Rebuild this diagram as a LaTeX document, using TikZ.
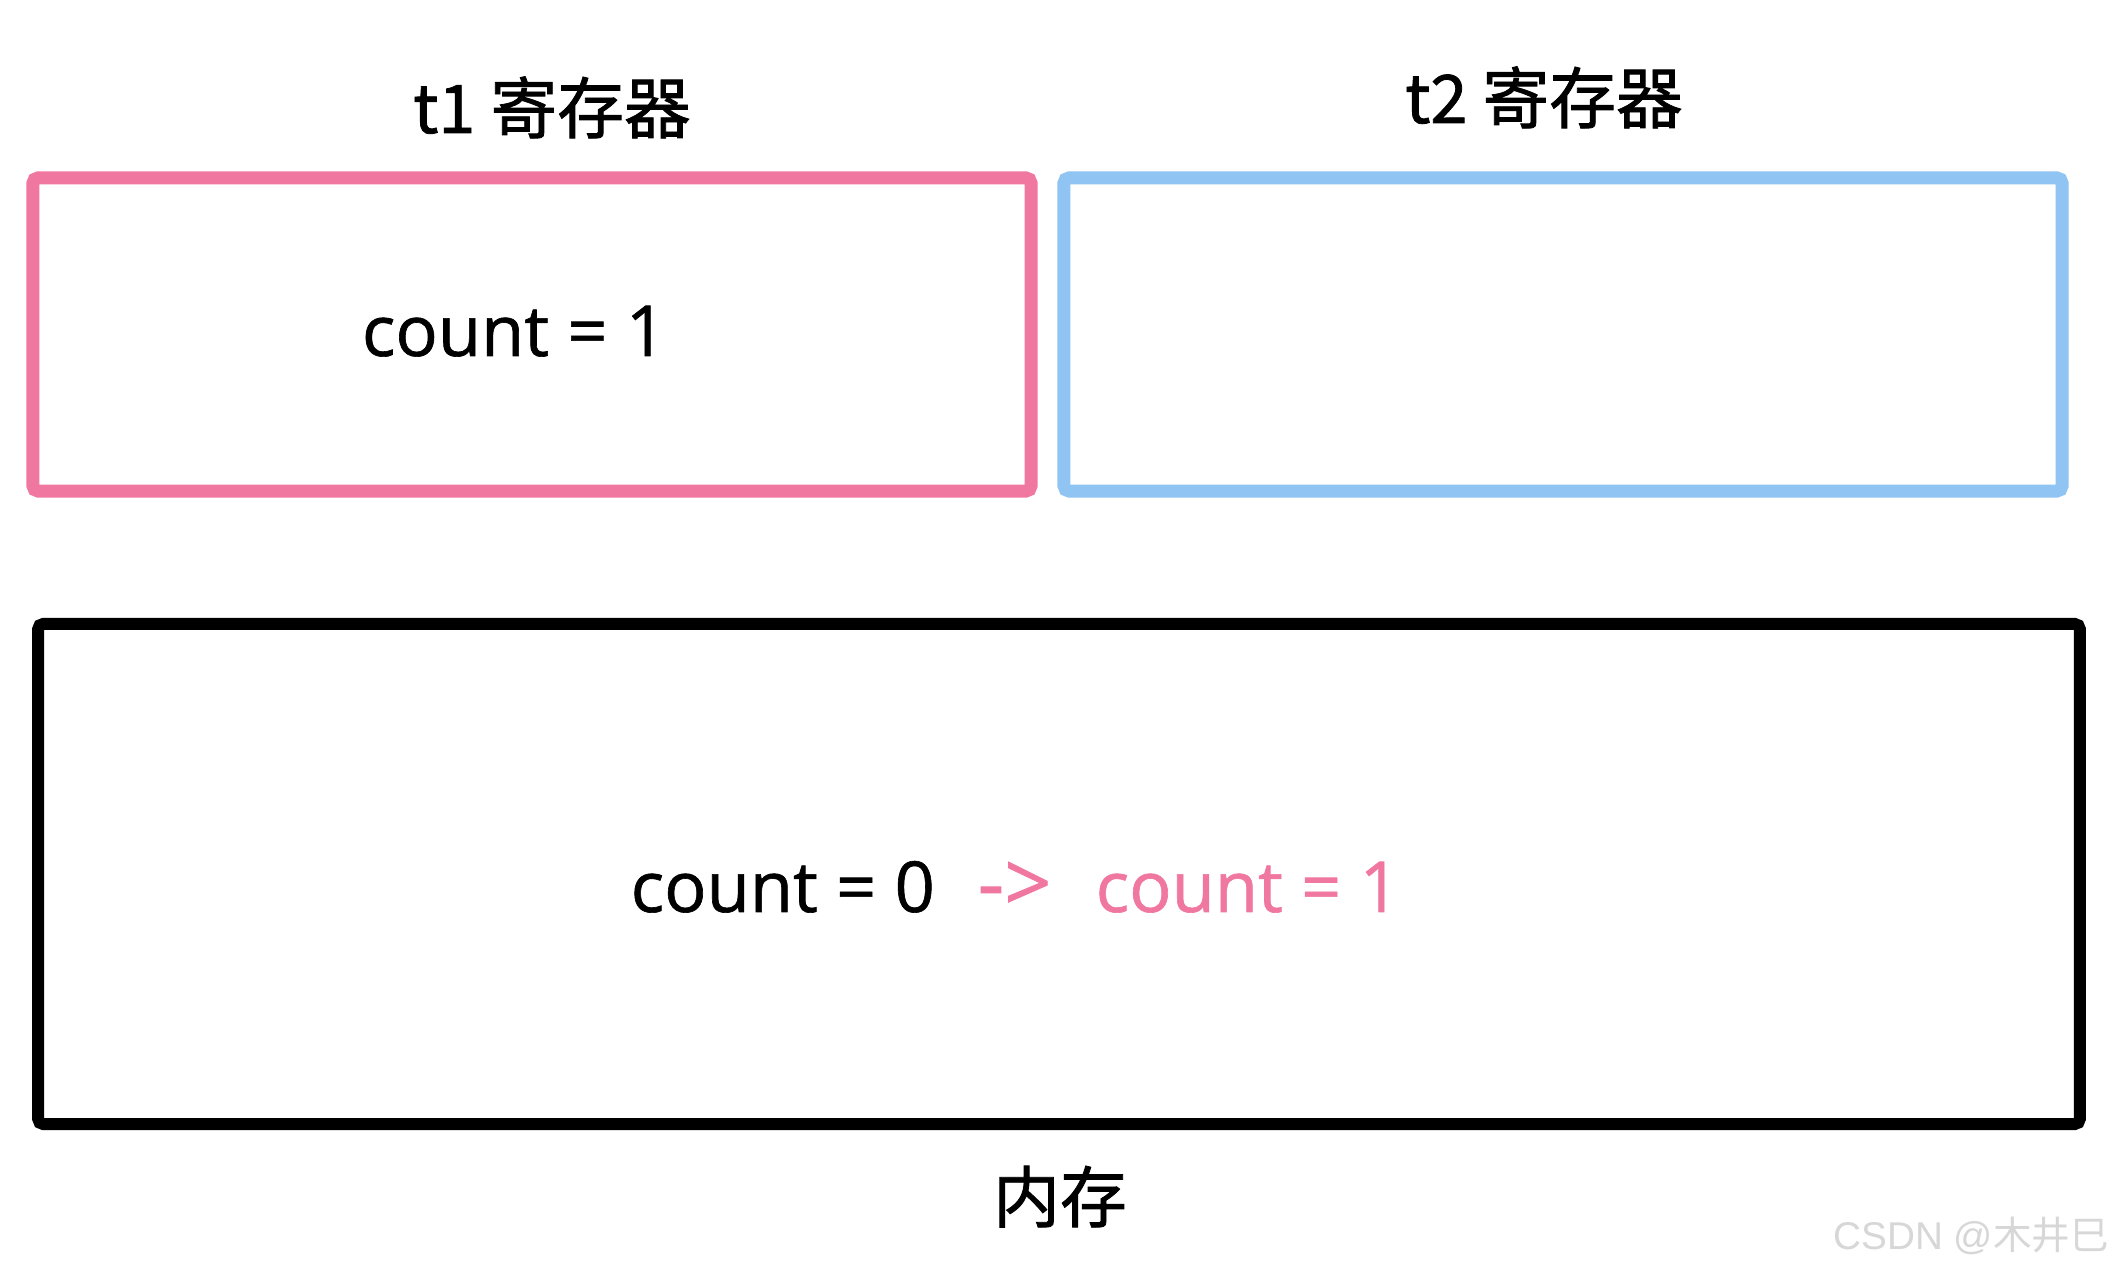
\documentclass[tikz,border=0pt]{standalone}
\usepackage{fontspec}
\setmainfont{Open Sans}[FakeBold=0.9]
\newfontfamily\cjk{Noto Sans CJK SC}[FakeBold=1.2]
\newfontfamily\wmfont{Liberation Sans}
\newfontfamily\wmcjk{Noto Sans CJK SC}
\definecolor{regpink}{RGB}{240,120,160}
\definecolor{regblue}{RGB}{144,196,242}
\definecolor{wmgray}{RGB}{215,215,215}
\tikzset{
  regbox/.style={draw, line width=3.7pt, rounded corners=1.5pt, minimum width=9.975cm, minimum height=3.13cm, inner sep=0pt},
  membox/.style={draw=black, line width=3.4pt, rounded corners=1.5pt, minimum width=20.405cm, minimum height=5.0cm, inner sep=0pt},
  lbl/.style={font=\cjk\fontsize{19}{22}\selectfont, inner sep=0pt, anchor=base},
  val/.style={font=\fontsize{20}{24}\selectfont, inner sep=0pt, anchor=base west},
}
\begin{document}
\begin{tikzpicture}[x=0.01cm, y=-0.01cm]
\useasboundingbox[fill=white] (0,0) rectangle (2118,1274);
\node[regbox, draw=regpink] (t1box) at (532,334.5) {};
\node[regbox, draw=regblue] (t2box) at (1563,334.5) {};
\node[membox] (mem) at (1059,874) {};
\node[lbl] (t1lbl) at (552,133) {t1 寄存器};
\node[lbl] (t2lbl) at (1544,123) {t2 寄存器};
\node[lbl] (memlbl) at (1060,1222) {内存};
\node[val, anchor=base] (t1val) at (514,356) {count = 1};
\node[val] (old) at (630,912) {count = 0};
\node[val, text=regpink, font=\fontsize{23.5}{26}\selectfont] (arrow) at (977,912) {->};
\node[val, text=regpink] (new) at (1095,912) {count = 1};
\node[inner sep=0pt, anchor=base east, text=wmgray, font=\wmfont\fontsize{11}{13}\selectfont] (wm) at (2110,1250) {CSDN @{\wmcjk 木井巳}};
\end{tikzpicture}
\end{document}
